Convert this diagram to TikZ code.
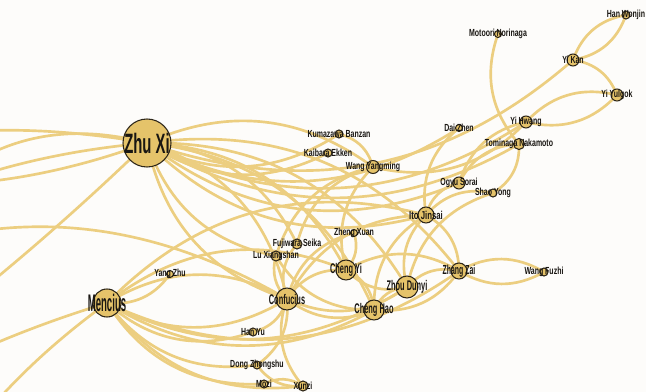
\documentclass[tikz,border=0pt]{standalone}
\usepackage{fontspec}
\newfontfamily\smallf{Liberation Sans}[FakeStretch=0.68]
\newfontfamily\condf{Liberation Sans}[FakeStretch=0.53]
\newfontfamily\narf{Liberation Sans}[FakeStretch=0.40]
\usetikzlibrary{backgrounds,calc}
\definecolor{linkc}{RGB}{236,206,128}
\definecolor{nodec}{RGB}{229,195,106}
\definecolor{rimc}{RGB}{45,38,25}
\definecolor{txtc}{RGB}{25,22,18}
\definecolor{paper}{RGB}{253,252,250}
\tikzset{
  pnode/.style={circle,draw=rimc,line width=0.8pt,fill=nodec,inner sep=0pt,minimum size=#1*1.5pt},
  link/.style={draw=linkc,line width=2pt},
  lsm/.style={font=\smallf\bfseries\fontsize{#1}{#1}\selectfont,text=txtc,inner sep=0pt},
  lsm/.default=7.7,
  lmd/.style={font=\condf\bfseries\fontsize{#1}{#1}\selectfont,text=txtc,inner sep=0pt},
  lmd/.default=10.5,
  lbg/.style={font=\narf\bfseries\fontsize{#1}{#1}\selectfont,text=txtc,inner sep=0pt}
}
% arc that bulges to the left / right of the way from #1 to #2 (y runs down)
\newcommand{\arcl}[2]{\draw[link] (#1.center) .. controls ($(#1.center)!0.39!-30:(#2.center)$) and ($(#2.center)!0.39!30:(#1.center)$) .. (#2.center);}
\newcommand{\arcr}[2]{\draw[link] (#1.center) .. controls ($(#1.center)!0.39!30:(#2.center)$) and ($(#2.center)!0.39!-30:(#1.center)$) .. (#2.center);}
\begin{document}
\begin{tikzpicture}[x=0.75pt,y=0.75pt,yscale=-1,xscale=1]
\useasboundingbox (0,0) rectangle (646,392);

% Thinkers
\node[pnode=24,label={[lmd=21]center:Zhu Xi}] (zx) at (147,143) {};
\node[pnode=14,label={[lbg=18]center:Mencius}] (mc) at (107,303) {};
\node[pnode=4,label={[lsm]center:Kumazawa Banzan}] (kb) at (339,134) {};
\node[pnode=4,label={[lsm]center:Kaibara Ekken}] (ke) at (328,153) {};
\node[pnode=6.5,label={[lsm]center:Wang Yangming}] (wy) at (373,167) {};
\node[pnode=3.5,label={[lsm]center:Dai Zhen}] (dz) at (459,128) {};
\node[pnode=6,label={[lsm]center:Yi Hwang}] (yh) at (526,122) {};
\node[pnode=5.5,label={[lsm]center:Tominaga Nakamoto}] (tn) at (519,144) {};
\node[pnode=3.5,label={[lsm]center:Motoori Norinaga}] (mo) at (498,34) {};
\node[pnode=4,label={[lsm]center:Han Wonjin}] (hw) at (626,15) {};
\node[pnode=6,label={[lsm]center:Yi Kan}] (yk) at (573,60) {};
\node[pnode=6,label={[lsm]center:Yi Yulgok}] (yy) at (617,95) {};
\node[pnode=6,label={[lsm]center:Ogyu Sorai}] (os) at (459,183) {};
\node[pnode=4,label={[lsm]center:Shao Yong}] (sy) at (493,193) {};
\node[pnode=8,label={[lsm=8.6]center:Ito Jinsai}] (ij) at (426,215) {};
\node[pnode=3.5,label={[lsm]center:Zheng Xuan}] (zh) at (354,233) {};
\node[pnode=5,label={[lsm]center:Fujiwara Seika}] (fs) at (297,244) {};
\node[pnode=5,label={[lsm]center:Lu Xiangshan}] (lx) at (276,256) {};
\node[pnode=10,label={[lmd]center:Cheng Yi}] (cy) at (346,270) {};
\node[pnode=11,label={[lmd]center:Zhou Dunyi}] (zd) at (407,287) {};
\node[pnode=8,label={[lmd=9.8]center:Zhang Zai}] (zz) at (459,271) {};
\node[pnode=4,label={[lsm]center:Wang Fuzhi}] (wf) at (544,272) {};
\node[pnode=11,label={[lmd]center:Confucius}] (cf) at (287,299) {};
\node[pnode=10,label={[lmd]center:Cheng Hao}] (ch) at (374,310) {};
\node[pnode=3.5,label={[lsm]center:Yang Zhu}] (yz) at (170,274) {};
\node[pnode=4,label={[lsm]center:Han Yu}] (hy) at (253,332) {};
\node[pnode=4,label={[lsm]center:Dong Zhongshu}] (ds) at (257,365) {};
\node[pnode=4,label={[lsm]center:Mozi}] (mz) at (264,384) {};
\node[pnode=5,label={[lsm]center:Xunzi}] (xz) at (303,386) {};

% ends of links that leave the frame
\coordinate (wa) at (-490,376);
\coordinate (wb) at (-80,205);
\coordinate (wc) at (-400,527);
\coordinate (wd) at (-440,40);
\coordinate (we) at (-1790,627);
\coordinate (wf1) at (-207,299);
\coordinate (wm) at (-507,961);
\coordinate (wn) at (-137,851);

\begin{scope}[on background layer]
\clip (0,0) rectangle (646,392);
\fill[paper] (0,0) rectangle (646,392);
% Zhu Xi
\arcl{zx}{wy}
\arcr{zx}{kb}
\arcr{zx}{ke}
\arcr{zx}{yh}
\arcr{zx}{tn}
\arcr{zx}{yk}
\arcr{zx}{dz}
\arcr{zx}{ij}
\arcr{zx}{os}
\arcl{zx}{fs}
\arcr{zx}{lx}
\arcl{zx}{cy}
\arcl{zx}{ch}
\arcl{zx}{zd}
\arcl{zx}{zz}
\arcr{zx}{cf}
\arcl{zx}{cf}
\arcr{zx}{wa}
\arcr{zx}{wb}
\arcr{zx}{wc}
\arcl{zx}{wd}
\arcl{zx}{we}
% Mencius
\arcr{mc}{yz}
\arcl{mc}{cf}
\arcr{mc}{cf}
\arcl{mc}{cy}
\arcr{mc}{zd}
\arcr{mc}{ch}
\arcr{mc}{zz}
\arcr{mc}{xz}
\arcr{mc}{mz}
\arcr{mc}{hy}
\arcr{mc}{ds}
\arcl{mc}{ij}
\arcr{mc}{wm}
\arcr{mc}{wn}
% Confucius
\arcr{cf}{xz}
\arcl{cf}{hy}
\arcl{cf}{ds}
\arcl{cf}{cy}
\arcr{cf}{zd}
\arcr{cf}{ch}
\arcl{cf}{lx}
\arcl{cf}{fs}
\arcl{cf}{ij}
\arcl{cf}{zh}
\arcr{cf}{wf1}
% Song masters
\arcr{cy}{zd}
\arcl{cy}{ch}
\arcl{cy}{zz}
\arcr{cy}{zh}
\arcl{cy}{wy}
\arcr{zd}{ch}
\arcl{zd}{zz}
\arcl{zd}{sy}
\arcl{zd}{ij}
\arcr{ch}{zz}
\arcl{ch}{lx}
\arcl{ch}{ij}
\arcl{zz}{wf}
\arcr{zz}{wf}
\arcr{zz}{ij}
% Japan and Korea
\arcl{ij}{os}
\arcl{ij}{sy}
\arcr{dz}{ij}
\arcl{os}{tn}
\arcl{os}{yh}
\arcr{sy}{tn}
\arcr{mo}{tn}
\arcl{yh}{yy}
\arcr{yh}{yy}
\arcl{yk}{hw}
\arcr{yk}{hw}
\arcl{yk}{yy}
\arcl{kb}{wy}
\arcl{lx}{wy}
\arcl{fs}{wy}
\arcr{wy}{yh}
% late Han
\arcr{ds}{xz}
\arcl{mz}{xz}
\end{scope}
\end{tikzpicture}
\end{document}
